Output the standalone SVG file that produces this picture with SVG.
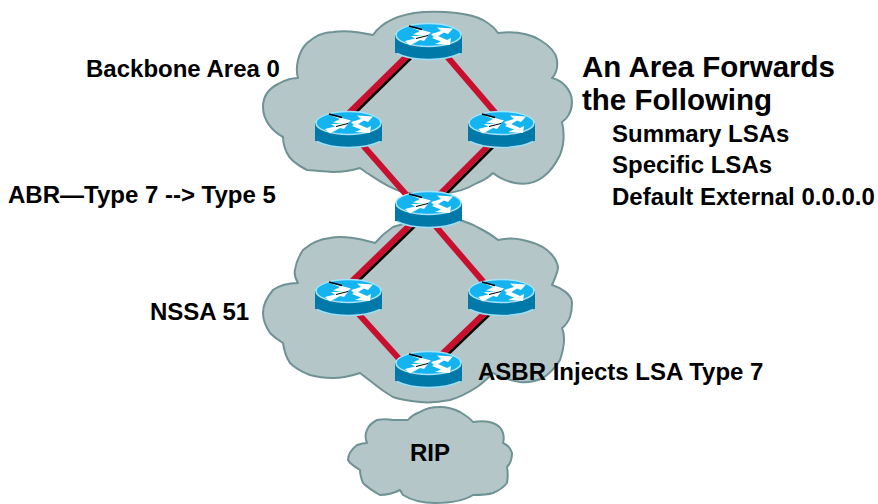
<svg xmlns="http://www.w3.org/2000/svg" width="878" height="504" viewBox="0 0 878 504">
<style>
.cloud{fill:#b4c6c8;stroke:#6f9295;stroke-width:2;stroke-linejoin:round}
.t{font-family:"Liberation Sans",Arial,sans-serif;font-weight:bold;font-size:24px;fill:#000}
.h{font-size:29.500px}
.red{stroke:#c8102e;stroke-width:6;fill:none}
.blk{stroke:#000;stroke-width:3;fill:none}
</style>
<defs>
<g id="router">
<path d="M0 12V30H1C10 35 22 37 33.500 37C45 37 57 35 66 30H67V12Z" fill="#0078a8"/>
<path d="M2 30.500C11 35 22 36.500 33.500 36.500C45 36.500 56 35 65 30.500" fill="none" stroke="#9be0f5" stroke-width="1.500"/>
<ellipse cx="33.500" cy="12" rx="32.500" ry="11.500" fill="#14b4f0" stroke="#a5e4f8" stroke-width="1.500"/>
<path d="M14 3.500L36 9.500L31 13.500L18 11.500L25 8Z" fill="#fff"/>
<path d="M14 3L27 6.500" stroke="#000" stroke-width="1.400"/>
<path d="M36 11L46 8L42 4.500L58 5.500L53 11L49 9.500L40 15Z" fill="#fff"/>
<path d="M10 18L20 15.500L16 13L33 13L29 18L25 17L15 22.500Z" fill="#fff"/>
<path d="M37 15L42 12.500L52 17L56 15L55 22L40 21L46 18.500Z" fill="#fff"/>
<path d="M21 15.500L33 12.500" stroke="#000" stroke-width="1"/>
</g>
</defs>
<g id="cloud-backbone"><path class="cloud" d="M373 35C382 22 400 14 423 12C445 11 470 13 483 20C490 24 495 28 498 33C515 31 530 34 540 40C550 46 556 52 557 60C558 68 556 74 552 78C562 80 572 90 572 102C572 112 567 119 562 122C565 135 564 145 560 155C555 165 550 172 543 177C535 183 525 185 515 183C505 181 498 177 493 173C488 178 482 181 477 183C467 189 457 192 447 193L407 193C392 190 378 180 367 173L360 168C350 171 340 172 333 172L307 170C297 165 290 160 287 153C284 147 283 142 283 137C272 131 263 120 263 107C263 95 270 88 278 84C285 80 292 78 298 78C295 68 298 52 307 43C315 36 325 32 333 32C345 30 360 32 373 35Z"/></g>
<g id="cloud-nssa"><path class="cloud" d="M375 243C381 236 387 231 393 227C410 221 440 218 460 220C466 222 472 224 477 227C485 231 492 235 498 240C507 238 515 238 523 240C532 242 541 245 547 250C553 255 557 261 558 267C558 272 556 276 552 285C562 288 572 295 572 303C572 310 571 314 570 317C568 322 565 326 562 328C565 335 565 345 560 360C556 367 550 373 543 378C536 381 528 383 520 382C510 380 500 377 493 373C488 378 483 383 477 387C468 393 460 397 450 400C440 402 430 403 420 402C410 401 401 400 393 397C386 393 379 388 373 383L360 373C351 376 342 378 333 378C325 378 317 377 310 375C302 372 295 368 290 363C286 357 284 350 283 343C278 340 274 337 270 333C266 327 263 320 263 313C263 305 267 297 273 290C280 285 290 283 298 283C295 278 294 274 295 270C296 262 299 256 303 250C311 243 320 239 330 238C338 236 346 237 353 238C361 239 368 241 375 243Z"/></g>
<g id="cloud-rip"><path class="cloud" d="M408 420C411 416 415 414 420 412C426 408 433 407 440 407C447 407 454 409 460 412C465 415 470 418 473 422C481 421 488 421 493 423C498 425 502 429 503 433C504 437 504 440 503 443C508 445 511 449 512 453C512 459 510 464 507 467C508 473 508 478 507 483C503 488 498 491 493 493C487 495 480 495 473 495C465 500 450 503 435 503C422 503 411 500 403 495L400 490C394 493 387 495 380 495C373 491 367 487 363 483C361 478 360 474 360 470C355 467 350 464 348 460C348 454 352 449 357 445C360 444 364 443 367 443C365 438 365 434 367 430C369 425 373 422 377 420C382 419 388 419 393 420C398 420 403 420 408 420Z"/></g>
<g id="connectors">
<path class="blk" d="M414 55L348 120"/><path class="red" d="M410 53L344 118"/>
<path class="red" d="M444 53L498 116"/>
<path class="red" d="M360 142L410 199"/>
<path class="blk" d="M496 144L441 199"/><path class="red" d="M492 142L437 197"/>
<path class="blk" d="M416 225L351 288"/><path class="red" d="M412 223L347 286"/>
<path class="red" d="M432 222L487 286"/>
<path class="red" d="M355 310L402 362"/>
<path class="blk" d="M491 313L442 360"/><path class="red" d="M487 311L438 358"/>
</g>
<g id="r-top"><use href="#router" x="395" y="23"/></g>
<g id="r-left"><use href="#router" x="315" y="111"/></g>
<g id="r-right"><use href="#router" x="468" y="111"/></g>
<g id="r-abr"><use href="#router" x="395" y="191"/></g>
<g id="r-nssa-left"><use href="#router" x="315" y="279"/></g>
<g id="r-nssa-right"><use href="#router" x="468" y="279"/></g>
<g id="r-asbr"><use href="#router" x="395" y="351"/></g>
<g id="labels">
<text class="t" x="86" y="77">Backbone Area 0</text>
<text class="t h" x="582" y="77">An Area Forwards</text>
<text class="t h" x="582" y="110">the Following</text>
<text class="t" x="612" y="142">Summary LSAs</text>
<text class="t" x="612" y="173">Specific LSAs</text>
<text class="t" x="612" y="205">Default External 0.0.0.0</text>
<text class="t" x="8" y="203">ABR—Type 7 --&gt; Type 5</text>
<text class="t" x="150" y="320">NSSA 51</text>
<text class="t" x="478" y="380">ASBR Injects LSA Type 7</text>
<text class="t" x="410" y="461">RIP</text>
</g>
</svg>
